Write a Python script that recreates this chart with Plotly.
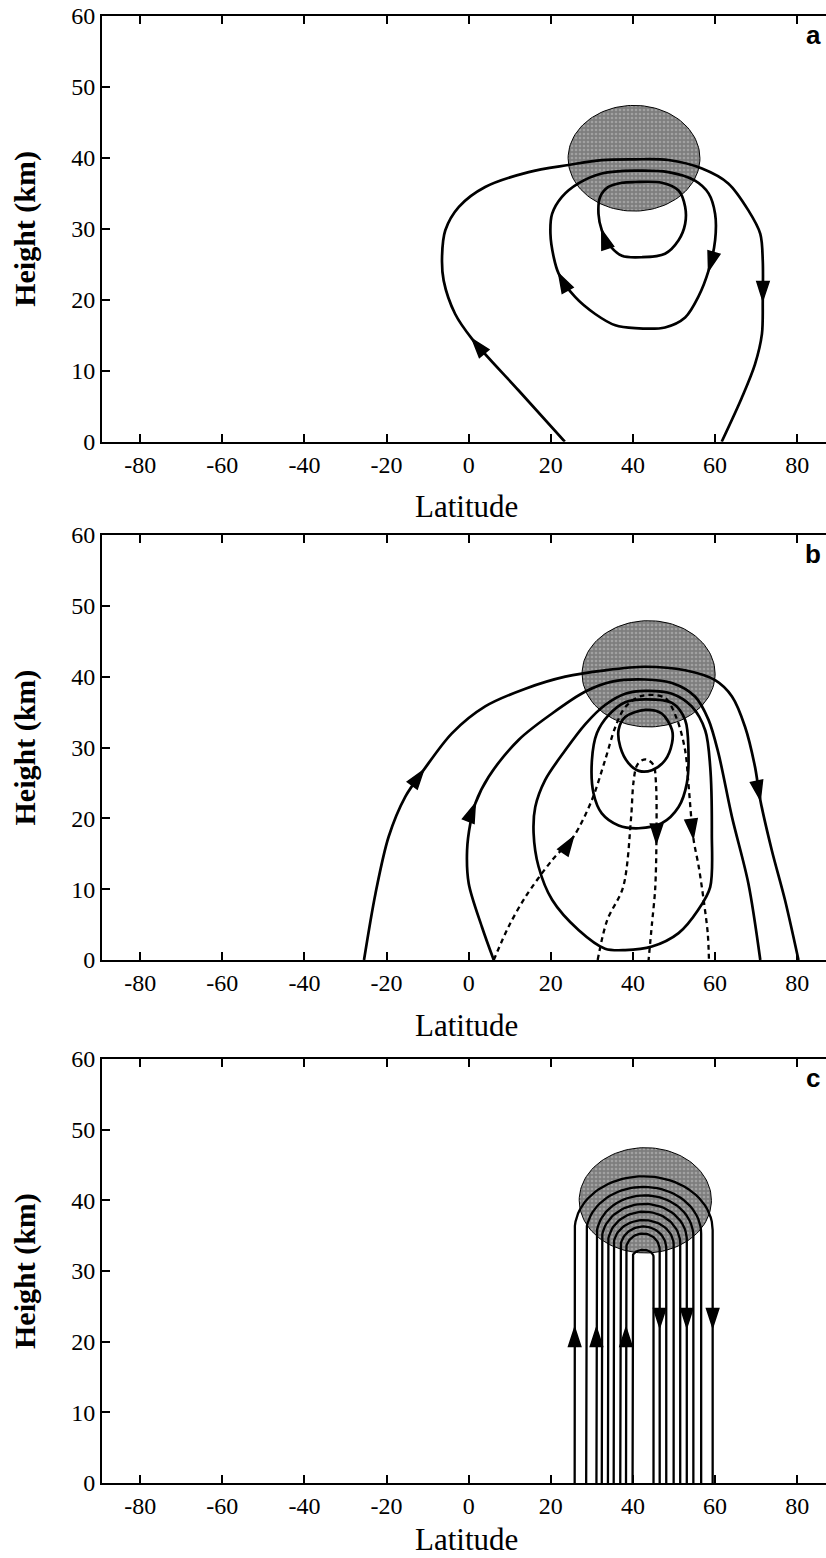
import numpy as np
import plotly.graph_objects as go

# ---- axes ----
lat_ticks = [-80, -60, -40, -20, 0, 20, 40, 60, 80]
lat_tick_text = ["-80", "-60", "-40", "-20", "0", "20", "40", "60", "80"]
height_ticks = [0, 10, 20, 30, 40, 50, 60]
panel_labels = ["a", "b", "c"]

# ---- shaded region per panel: centre lat, centre height, half-width (deg), half-height (km) ----
blob_a = [40.25, 39.95, 16.05, 7.45]
blob_b = [43.8, 40.4, 16.2, 7.5]
blob_c = [43.0, 40.0, 16.1, 7.45]

# ---- panel a streamlines (points listed in flow direction) ----
a_outer_lat = [23.4, 12.1, 0.8, -3.3, -6.1, -6.5, -5.7, -2.4, 4.0, 14.6, 24.3, 32.4,
               40.5, 48.6, 56.8, 63.2, 68.1, 71.0, 71.6, 71.6, 71.4, 69.7, 66.5, 61.6]
a_outer_h = [0, 7.25, 14.5, 18.0, 22.7, 26.0, 29.8, 33.1, 35.9, 38.0, 39.0, 39.7,
             39.8, 39.7, 38.5, 36.4, 32.6, 29.3, 25.5, 19.9, 15.2, 10.9, 6.2, 0]
a_outer_arrows = [2, 19]

a_mid_lat = [40.5, 35.7, 30.8, 25.9, 21.9, 20.7, 19.9, 20.3, 22.7, 26.7, 32.4, 40.5,
             48.6, 55.1, 58.4, 60.0, 60.0, 58.4, 55.9, 52.7, 47.8, 40.5]
a_mid_h = [16.0, 16.4, 18.0, 20.4, 23.7, 26.0, 29.3, 32.1, 34.5, 36.4, 37.8, 38.2,
           38.0, 36.8, 35.0, 32.1, 28.4, 24.1, 20.4, 17.5, 16.1, 16.0]
a_mid_arrows = [4, 17]

a_in_lat = [42.2, 37.3, 34.0, 32.4, 31.6, 32.0, 34.0, 37.3, 40.5, 47.0, 51.1, 52.7,
            52.7, 51.1, 47.8, 42.2]
a_in_h = [26.0, 26.2, 27.9, 29.8, 32.1, 34.5, 35.9, 36.5, 36.6, 36.5, 35.4, 33.1,
          30.7, 28.4, 26.5, 26.0]
a_in_arrows = [3]

# ---- panel b streamlines ----
b1_lat = [-25.5, -22.7, -19.5, -15.4, -11.0, -4.1, 4.0, 13.8, 23.5, 33.2, 43.0, 52.7,
          60.0, 64.1, 67.3, 69.7, 71.0, 73.8, 77.0, 80.3]
b1_h = [0, 9.4, 17.4, 23.1, 26.8, 32.0, 35.8, 38.3, 40.0, 40.9, 41.4, 40.9,
        39.5, 37.2, 32.9, 27.3, 22.6, 15.5, 8.5, 0]
b1_arrows = [4, 16]

b2_lat = [6.1, 3.2, 0.0, -0.4, 0.4, 1.6, 4.9, 12.2, 20.3, 28.4, 34.9, 43.0, 49.5,
          55.1, 58.4, 60.8, 64.1, 68.1, 71.0]
b2_h = [0, 4.7, 10.8, 15.5, 19.3, 22.1, 25.9, 31.1, 34.8, 37.9, 39.3, 39.6, 39.1,
        37.2, 33.9, 29.2, 20.2, 10.8, 0]
b2_arrows = [5]

b3_lat = [38.1, 33.2, 26.8, 20.3, 17.0, 15.8, 16.2, 18.6, 23.5, 28.4, 33.2, 38.1, 43.0,
          49.5, 54.3, 57.6, 58.8, 59.2, 58.8, 55.9, 51.1, 44.6, 38.1]
b3_h = [1.4, 1.6, 4.2, 8.5, 13.2, 17.9, 21.6, 25.4, 29.6, 33.3, 36.0, 37.6, 38.0,
        37.6, 35.8, 32.4, 27.3, 17.9, 10.3, 7.1, 3.8, 1.9, 1.4]

b4_lat = [41.4, 36.5, 32.4, 30.4, 30.0, 31.2, 34.1, 38.1, 43.0, 49.5, 52.7, 53.5,
          53.1, 51.1, 47.0, 41.4]
b4_h = [18.6, 19.0, 20.7, 23.5, 28.2, 32.0, 34.6, 36.4, 36.8, 36.3, 33.9, 29.6,
        24.9, 21.6, 19.3, 18.6]

b5_lat = [41.4, 38.9, 36.9, 36.5, 38.1, 43.0, 47.0, 49.5, 49.5, 47.8, 44.6, 41.4]
b5_h = [26.7, 27.8, 30.1, 32.5, 34.3, 35.3, 34.8, 32.5, 30.6, 28.2, 26.8, 26.7]

# dashed streamlines
d1_lat = [6.1, 9.7, 13.8, 20.3, 25.5, 30.0, 33.2, 35.7, 38.1, 42.2, 47.8, 50.7,
          52.7, 53.5, 54.7, 56.0, 57.2, 58.2, 58.5]
d1_h = [0, 4.7, 8.9, 14.1, 17.4, 22.6, 28.2, 32.9, 35.7, 37.3, 37.0, 34.0,
        29.6, 24.9, 17.2, 13.2, 8.5, 3.8, 0]
d1_arrows = [4, 14]

d2_lat = [31.4, 33.7, 37.6, 39.5, 40.1, 40.9, 42.2, 43.4, 45.0, 45.6, 45.7, 45.4, 44.6, 43.8]
d2_h = [0, 5.6, 10.3, 19.8, 25.0, 27.4, 28.2, 28.3, 27.5, 24.9, 16.5, 10.0, 5.0, 0]
d2_arrows = [10]

# ---- panel c: nested columns (left up-leg, right down-leg, shoulder height, arch top) ----
c_left = [25.8, 28.6, 31.1, 32.4, 33.9, 35.3, 36.9, 38.3, 39.9]
c_right = [59.4, 56.6, 54.7, 53.1, 51.5, 49.9, 48.1, 46.5, 45.0]
c_shoulder = [35.8, 35.3, 34.9, 34.4, 33.9, 33.7, 33.2, 33.0, 32.0]
c_top = [43.4, 41.9, 40.7, 39.5, 38.4, 37.2, 36.3, 35.3, 33.0]
c_up_arrows = [0, 2, 7]
c_down_arrows = [0, 3, 7]
c_arrow_height = 22.0

# ---- layout geometry, in pixels of the 826x1558 page ----
W, H = 826, 1558
plot_left = 102
panel_px = [(16, 441.7), (535, 960), (1059, 1483)]
xlabel_px = [507, 1025, 1539]


def px_x(px):
    return px / W


def px_y(py):
    return 1 - py / H


fig = go.Figure()


def ax_names(i):
    return ("x" if i == 1 else f"x{i}"), ("y" if i == 1 else f"y{i}")


def add_line(i, xs, ys, dash=None, width=2.7):
    xa, ya = ax_names(i)
    fig.add_trace(go.Scatter(
        x=xs, y=ys, mode="lines", xaxis=xa, yaxis=ya,
        line=dict(color="black", width=width, shape="spline", smoothing=0.9, dash=dash),
        hoverinfo="skip", showlegend=False))


def add_arrows(i, xs, ys, idx_list):
    xa, ya = ax_names(i)
    for k in idx_list:
        # previous point built from the neighbours so the head follows the local tangent
        px = xs[k] - (xs[k + 1] - xs[k - 1]) * 0.3
        py = ys[k] - (ys[k + 1] - ys[k - 1]) * 0.3
        fig.add_trace(go.Scatter(
            x=[px, xs[k]], y=[py, ys[k]], mode="markers", xaxis=xa, yaxis=ya,
            marker=dict(symbol="arrow", size=[0, 20], angleref="previous", opacity=1,
                        color="#000000", line=dict(width=1.5, color="#000000")),
            hoverinfo="skip", showlegend=False))


def add_blob(i, blob):
    xa, ya = ax_names(i)
    cx, cy, rx, ry = blob
    t = np.linspace(0, 2 * np.pi, 121)
    fig.add_trace(go.Scatter(
        x=cx + rx * np.cos(t), y=cy + ry * np.sin(t), mode="lines", fill="toself",
        xaxis=xa, yaxis=ya,
        fillcolor="#858585",
        fillpattern=dict(shape=".", bgcolor="#7e7e7e", fgcolor="#c4c4c4",
                         size=4, solidity=0.35),
        line=dict(color="black", width=1),
        hoverinfo="skip", showlegend=False))


# panel a
add_blob(1, blob_a)
for xs, ys, arr in [(a_outer_lat, a_outer_h, a_outer_arrows),
                    (a_mid_lat, a_mid_h, a_mid_arrows),
                    (a_in_lat, a_in_h, a_in_arrows)]:
    add_line(1, xs, ys)
    add_arrows(1, xs, ys, arr)

# panel b
add_blob(2, blob_b)
for xs, ys in [(b3_lat, b3_h), (b4_lat, b4_h), (b5_lat, b5_h)]:
    add_line(2, xs, ys)
for xs, ys, arr in [(b1_lat, b1_h, b1_arrows), (b2_lat, b2_h, b2_arrows)]:
    add_line(2, xs, ys)
    add_arrows(2, xs, ys, arr)
for xs, ys, arr in [(d1_lat, d1_h, d1_arrows), (d2_lat, d2_h, d2_arrows)]:
    add_line(2, xs, ys, dash="5px,4px", width=2.3)
    add_arrows(2, xs, ys, arr)

# panel c
add_blob(3, blob_c)
for L, R, S, T in zip(c_left, c_right, c_shoulder, c_top):
    t = np.linspace(np.pi, 0, 41)
    arc_x = (L + R) / 2 + (R - L) / 2 * np.cos(t)
    arc_y = S + (T - S) * np.sin(t)
    xs = np.concatenate([[L], arc_x, [R]])
    ys = np.concatenate([[0], arc_y, [0]])
    xa, ya = ax_names(3)
    fig.add_trace(go.Scatter(x=xs, y=ys, mode="lines", xaxis=xa, yaxis=ya,
                             line=dict(color="black", width=2.3),
                             hoverinfo="skip", showlegend=False))
for k in c_up_arrows:
    add_arrows(3, [c_left[k]] * 3, [c_arrow_height - 1, c_arrow_height, c_arrow_height + 1], [1])
for k in c_down_arrows:
    add_arrows(3, [c_right[k]] * 3, [c_arrow_height + 1, c_arrow_height, c_arrow_height - 1], [1])

serif = "Liberation Serif, Times New Roman, serif"
layout = dict(width=W, height=H, margin=dict(l=0, r=0, t=0, b=0, autoexpand=False),
              paper_bgcolor="white", plot_bgcolor="white", showlegend=False)
annotations = []
for i, (top, bottom) in enumerate(panel_px, start=1):
    sfx = "" if i == 1 else str(i)
    layout["xaxis" + sfx] = dict(
        domain=[px_x(plot_left), 1], range=[-89.3, 87], anchor="y" + sfx, automargin=False,
        tickvals=lat_ticks, ticktext=lat_tick_text,
        ticks="inside", ticklen=8, tickwidth=1.5, tickcolor="black",
        showline=True, linewidth=2, linecolor="black", mirror="ticks",
        showgrid=False, zeroline=False,
        tickfont=dict(family=serif, size=24, color="black"))
    layout["yaxis" + sfx] = dict(
        domain=[px_y(bottom), px_y(top)], range=[0, 60], anchor="x" + sfx, automargin=False,
        tickvals=height_ticks, ticks="inside", ticklen=8, tickwidth=1.5, tickcolor="black",
        showline=True, linewidth=2, linecolor="black",
        showgrid=False, zeroline=False, ticklabeloverflow="allow",
        tickfont=dict(family=serif, size=24, color="black"))
    annotations.append(dict(
        text="Latitude", xref="paper", yref="paper", x=px_x(466), y=px_y(xlabel_px[i - 1]),
        xanchor="center", yanchor="middle", showarrow=False,
        font=dict(family=serif, size=31, color="black")))
    annotations.append(dict(
        text="<b>Height (km)</b>", xref="paper", yref="paper", x=px_x(25),
        y=px_y((top + bottom) / 2), textangle=-90,
        xanchor="center", yanchor="middle", showarrow=False,
        font=dict(family=serif, size=30, color="black")))
    annotations.append(dict(
        text="<b>" + panel_labels[i - 1] + "</b>", xref="paper", yref="paper",
        x=px_x(813), y=px_y(top + 19),
        xanchor="center", yanchor="middle", showarrow=False,
        font=dict(family="Liberation Sans, Arial, sans-serif", size=26, color="black")))
layout["annotations"] = annotations
fig.update_layout(**layout)

# drop the browser's default 8px page margin so the figure sits at the window corner
fig.write_html("out.html", config={"displayModeBar": False},
               post_script="document.body.style.margin='0';")
